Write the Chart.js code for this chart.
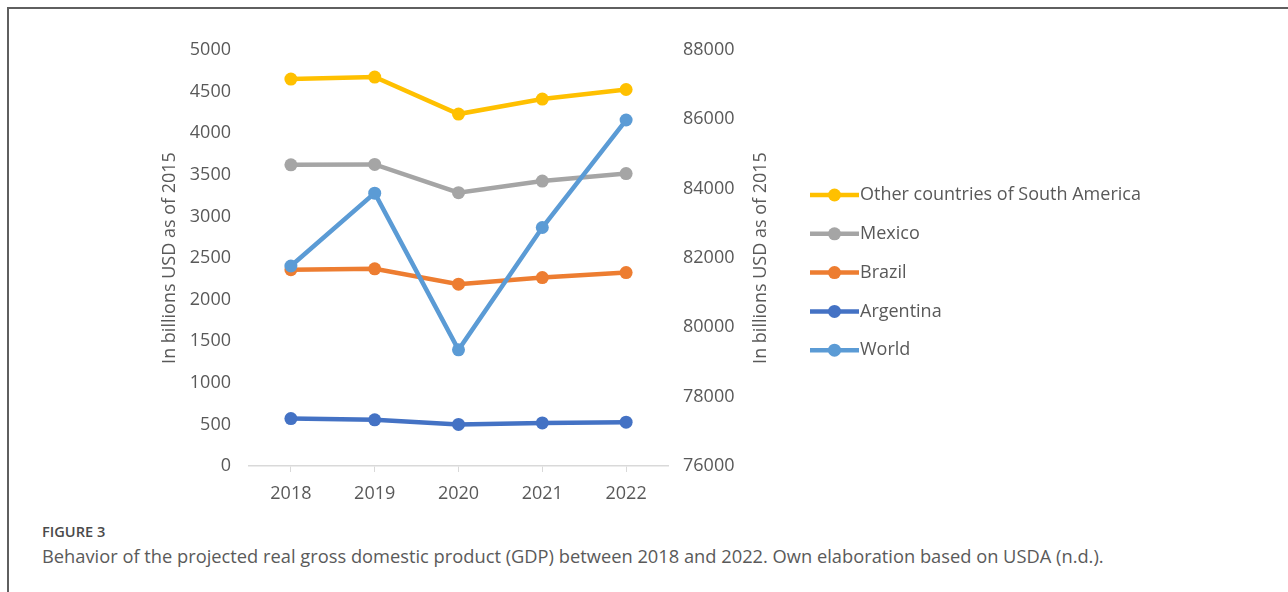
<!DOCTYPE html>
<html>
<head>
<meta charset="utf-8">
<script src="https://cdn.jsdelivr.net/npm/chart.js@4.4.1/dist/chart.umd.min.js"></script>
<style>
  body { margin: 0; background: #fff; width: 1288px; height: 592px; overflow: hidden; font-family: "Open Sans", sans-serif; }
  #frame { position: absolute; left: 7px; top: 7px; width: 1300px; height: 600px; border-left: 2px solid #5f5f5f; border-top: 2px solid #5f5f5f; }
  #wrap { position: absolute; left: 0; top: 0; width: 1288px; height: 520px; }
  #fig { position: absolute; left: 42px; top: 520px; font-size: 14.6px; line-height: 22px; font-weight: 600; color: #4a4a4a; }
  #cap { position: absolute; left: 42px; top: 543px; font-size: 18.3px; line-height: 26px; color: #5a5a5a; white-space: nowrap; }
</style>
</head>
<body>
<div id="frame"></div>
<div id="wrap"><canvas id="gdpChart"></canvas></div>
<div id="fig">FIGURE 3</div>
<div id="cap">Behavior of the projected real gross domestic product (GDP) between 2018 and 2022. Own elaboration based on USDA (n.d.).</div>
<script>
const years = ['2018', '2019', '2020', '2021', '2022'];
const otherSouthAmerica = [4650, 4675, 4230, 4410, 4525];
const mexico = [3620, 3625, 3285, 3425, 3515];
const brazil = [2360, 2370, 2185, 2265, 2325];
const argentina = [570, 555, 500, 518, 527];
const world = [81770, 83870, 79350, 82880, 85980]; // right axis
const axisTitle = 'In billions USD as of 2015';

const textColor = '#595959';
const tickFont = { family: 'Open Sans', size: 18 };

function series(label, data, color, axis, order) {
    return {
        label: label,
        data: data,
        yAxisID: axis,
        borderColor: color,
        backgroundColor: color,
        borderWidth: 4.5,
        pointRadius: 6.5,
        pointHoverRadius: 6.5,
        pointBorderWidth: 0,
        tension: 0,
        order: order
    };
}

// legend + right-hand title drawn by hand (Excel style marker, bottom-to-top title)
const excelLegend = {
    id: 'excelLegend',
    afterDraw(chart) {
        const ctx = chart.ctx;
        ctx.save();
        chart.data.datasets.forEach((ds, i) => {
            const y = 195 + i * 38.8;
            ctx.strokeStyle = ds.borderColor;
            ctx.lineWidth = 4.5;
            ctx.beginPath();
            ctx.moveTo(810, y);
            ctx.lineTo(859, y);
            ctx.stroke();
            ctx.fillStyle = ds.borderColor;
            ctx.beginPath();
            ctx.arc(834.5, y, 6.5, 0, Math.PI * 2);
            ctx.fill();
            ctx.fillStyle = textColor;
            ctx.font = '18px "Open Sans"';
            ctx.textAlign = 'left';
            ctx.textBaseline = 'middle';
            ctx.fillText(ds.label, 860, y);
        });
        const area = chart.chartArea;
        ctx.translate(761, (area.top + area.bottom) / 2);
        ctx.rotate(-Math.PI / 2);
        ctx.textAlign = 'center';
        ctx.textBaseline = 'middle';
        ctx.fillText(axisTitle, 0, 0);
        ctx.restore();
    }
};

const plain = (v) => String(v);

const ctx = document.getElementById('gdpChart').getContext('2d');
const gdpChart = new Chart(ctx, {
    type: 'line',
    data: {
        labels: years,
        datasets: [
            series('Other countries of South America', otherSouthAmerica, '#FFC000', 'y', 1),
            series('Mexico', mexico, '#A5A5A5', 'y', 2),
            series('Brazil', brazil, '#ED7D31', 'y', 3),
            series('Argentina', argentina, '#4472C4', 'y', 4),
            series('World', world, '#5B9BD5', 'y2', 0)
        ]
    },
    options: {
        responsive: true,
        maintainAspectRatio: false,
        animation: false,
        layout: { padding: { left: 156, right: 513, top: 50, bottom: 0 } },
        plugins: {
            legend: { display: false },
            tooltip: { enabled: false }
        },
        scales: {
            x: {
                offset: true,
                grid: { display: true, drawOnChartArea: false, drawTicks: true, tickLength: 6, color: '#d9d9d9' },
                border: { display: true, color: '#d9d9d9', width: 1.5 },
                ticks: { font: tickFont, color: textColor, padding: 11 },
                afterFit: (s) => { s.height = 54; }
            },
            y: {
                position: 'left',
                min: 0,
                max: 5000,
                grid: { display: false, drawTicks: false },
                border: { display: false },
                ticks: { stepSize: 500, font: tickFont, color: textColor, padding: 18, callback: plain },
                title: { display: true, text: axisTitle, font: tickFont, color: textColor, padding: { top: 3, bottom: 0 } },
                afterFit: (s) => { s.width = 93; }
            },
            y2: {
                position: 'right',
                min: 76000,
                max: 88000,
                grid: { display: false, drawTicks: false },
                border: { display: false },
                ticks: { stepSize: 2000, font: tickFont, color: textColor, padding: 15, callback: plain },
                afterFit: (s) => { s.width = 107; }
            }
        }
    },
    plugins: [excelLegend]
});
</script>
</body>
</html>
